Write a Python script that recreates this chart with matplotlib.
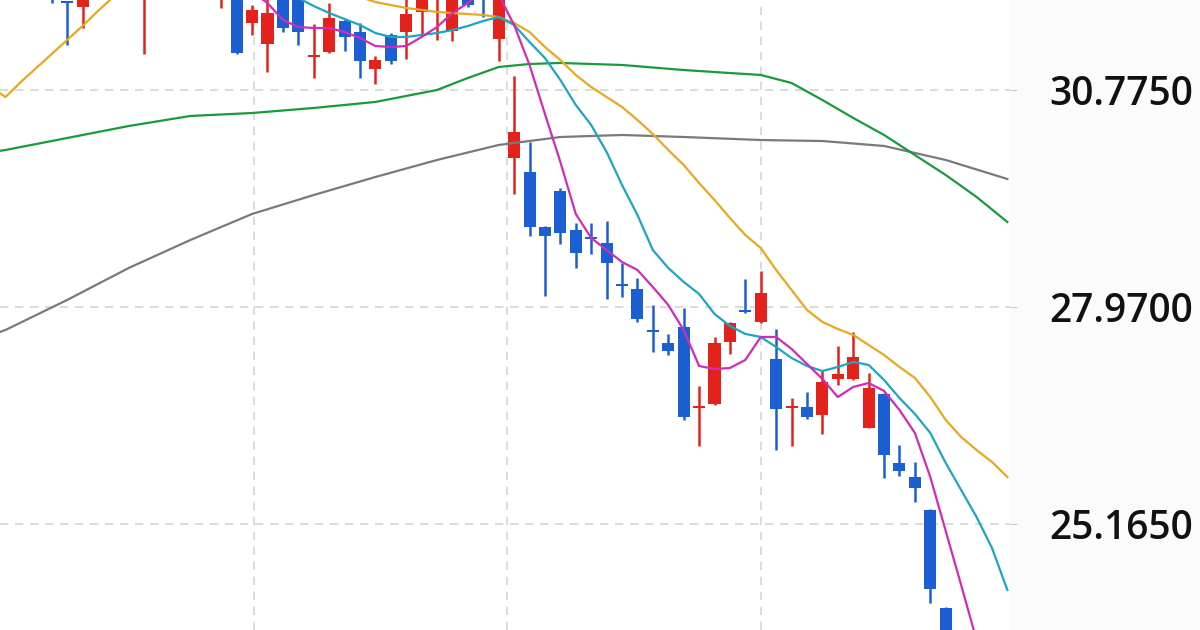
import matplotlib.pyplot as plt
import numpy as np

# candle data (price), index 0..58 from left to right
opens = [32.15, 31.916, 31.844, 32.05, 32.30, 32.55, 32.15, 32.50, 32.70, 32.55,
         32.75, 32.10, 32.50, 31.637, 31.365, 32.10, 32.05, 31.199, 31.262, 31.670,
         31.528, 31.046, 31.486, 31.520, 31.787, 32.00, 31.537, 32.10, 32.15, 31.434,
         29.892, 29.719, 29.004, 29.473, 28.965, 28.871, 28.793, 28.254, 28.202, 27.659,
         27.504, 27.711, 26.660, 26.716, 27.517, 27.931, 27.776, 27.297, 26.664, 26.677,
         26.574, 27.039, 27.039, 26.406, 26.845, 25.953, 25.772, 25.346, 24.079]
highs = [32.20, 31.919, 32.15, 32.40, 32.65, 32.75, 32.70, 32.85, 32.90, 32.95,
         32.85, 32.60, 32.60, 31.873, 31.95, 32.20, 32.15, 31.624, 31.903, 31.689,
         31.645, 31.214, 31.508, 31.99, 32.15, 32.35, 32.20, 32.20, 32.25, 32.10,
         30.956, 30.106, 29.017, 29.508, 29.055, 29.059, 29.085, 28.535, 28.348, 28.000,
         27.621, 27.957, 26.948, 27.582, 27.776, 28.332, 28.435, 27.685, 26.793, 26.871,
         27.142, 27.465, 27.647, 27.116, 26.852, 26.186, 25.966, 25.359, 24.092]
lows = [31.895, 31.356, 31.572, 31.98, 32.20, 32.30, 31.236, 32.35, 32.40, 32.45,
        32.30, 31.831, 31.236, 31.486, 31.003, 31.520, 31.356, 30.926, 31.255, 31.279,
        30.926, 30.852, 31.111, 31.175, 31.486, 31.421, 31.412, 31.851, 31.714, 31.153,
        29.430, 28.887, 28.116, 28.784, 28.478, 28.651, 28.073, 28.095, 27.780, 27.388,
        27.349, 26.509, 26.173, 26.709, 27.362, 27.898, 27.763, 26.121, 26.173, 26.522,
        26.328, 26.961, 27.026, 26.399, 25.759, 25.785, 25.449, 24.143, 23.30]
closes = [31.98, 31.899, 32.05, 32.30, 32.55, 32.40, 32.50, 32.70, 32.55, 32.75,
          32.60, 32.45, 31.249, 31.809, 31.774, 31.572, 31.520, 31.212, 31.701, 31.456,
          31.149, 31.166, 31.153, 31.757, 32.05, 32.25, 32.05, 31.873, 31.97, 32.00,
          30.236, 29.008, 28.887, 28.922, 28.664, 28.845, 28.542, 28.237, 27.811, 27.643,
          27.401, 26.548, 26.673, 27.504, 27.763, 27.901, 28.151, 26.651, 26.677, 26.548,
          27.000, 27.104, 27.323, 26.923, 26.056, 25.850, 25.630, 24.325, 23.50]

# moving average lines
ma5_x = list(range(13, 61))
ma5 = [32.041, 31.899, 31.679, 31.589, 31.576, 31.576, 31.524, 31.447, 31.343, 31.330,
       31.343, 31.460, 31.589, 31.770, 31.899, 32.067, 32.003, 31.615, 31.098, 30.464,
       29.844, 29.172, 28.862, 28.706, 28.551, 28.448, 28.228, 27.995, 27.672, 27.207,
       27.168, 27.181, 27.285, 27.582, 27.582, 27.427, 27.233, 27.039, 26.806, 26.936,
       26.987, 26.884, 26.638, 26.341, 25.772, 25.074, 24.376, 23.665]
ma10_x = list(range(15, 63))
ma10 = [32.067, 31.964, 31.860, 31.770, 31.692, 31.615, 31.511, 31.460, 31.460, 31.486,
        31.511, 31.550, 31.602, 31.667, 31.718, 31.615, 31.395, 31.188, 30.904, 30.581,
        30.322, 29.973, 29.547, 29.159, 28.706, 28.474, 28.293, 28.138, 27.879, 27.724,
        27.621, 27.582, 27.452, 27.310, 27.207, 27.142, 27.194, 27.259, 27.220, 27.026,
        26.793, 26.587, 26.341, 25.953, 25.604, 25.255, 24.855, 24.311]
ma20_x = [-4, -3, -2, -1, 0, 1, 2, 3, 4, 12] + list(range(20, 63))
ma20 = [30.82, 30.684, 30.878, 31.059, 31.240, 31.421, 31.602, 31.796, 31.977, 32.30,
        31.977, 31.912, 31.873, 31.835, 31.809, 31.783, 31.770, 31.757, 31.744, 31.718,
        31.641, 31.524, 31.330, 31.162, 30.969, 30.813, 30.684, 30.555, 30.387, 30.206,
        29.999, 29.805, 29.572, 29.353, 29.120, 28.900, 28.732, 28.448, 28.189, 27.931,
        27.776, 27.685, 27.608, 27.478, 27.349, 27.194, 27.052, 26.806, 26.509, 26.289,
        26.121, 25.966, 25.772]
ma60_x = [-4, -3, 1, 5, 9, 13, 17, 21, 25, 27, 29, 31, 33, 37, 41, 44, 46, 48, 50, 52,
          54, 56, 58, 60, 62]
ma60 = [29.97, 29.999, 30.154, 30.309, 30.439, 30.477, 30.542, 30.620, 30.775, 30.930,
        31.072, 31.111, 31.124, 31.098, 31.033, 30.994, 30.969, 30.865, 30.645, 30.413,
        30.193, 29.934, 29.676, 29.392, 29.068]
ma120_x = [-4, -3, 1, 5, 9, 13, 17, 21, 25, 29, 33, 37, 41, 46, 50, 54, 58, 62]
ma120 = [27.60, 27.672, 28.060, 28.474, 28.836, 29.172, 29.417, 29.650, 29.870, 30.064,
         30.167, 30.193, 30.167, 30.128, 30.115, 30.051, 29.870, 29.624]

price_ticks = [25.165, 27.970, 30.775]
month_lines = [13.12, 29.57, 46.02]

red = '#e3231b'
blue = '#1b5fd3'

o = np.array(opens)
c = np.array(closes)
idx = np.arange(len(o))
cols = np.where(c >= o, red, blue)

fig = plt.figure(figsize=(12, 6.3), dpi=100, facecolor='#fbfbfb')
ax = fig.add_axes([0, 0, 1010 / 1200, 1])
ax.set_facecolor('white')

# candles
ax.vlines(idx, lows, highs, colors=cols, linewidth=1.8, zorder=3)
body = np.maximum(np.abs(c - o), 0.025)
ax.bar(idx, body, bottom=np.minimum(o, c), width=0.78, color=cols, zorder=3)

# moving averages
ax.plot(ma120_x, ma120, color='#7a7a7a', lw=1.6, zorder=4)
ax.plot(ma60_x, ma60, color='#1a9a3c', lw=1.6, zorder=4)
ax.plot(ma20_x, ma20, color='#e8a91c', lw=1.6, zorder=4)
ax.plot(ma10_x, ma10, color='#1ba6c4', lw=1.6, zorder=4)
ax.plot(ma5_x, ma5, color='#d32bb8', lw=1.6, zorder=4)

ax.set_xlim(-3.354, 62.17)
ax.set_ylim(23.794, 31.938)

ax.set_xticks(month_lines)
ax.set_xticklabels([])
ax.tick_params(axis='x', length=0)
ax.set_yticks(price_ticks)
ax.set_yticklabels(['%.4f' % v for v in price_ticks])
ax.yaxis.tick_right()
ax.tick_params(axis='y', length=5, color='#cccccc', pad=23, labelsize=28,
               labelcolor='#111111')
for lab in ax.get_yticklabels():
    lab.set_fontfamily('Open Sans')
    lab.set_fontweight('semibold')

ax.grid(True, color='#d6d6d6', linestyle=(0, (5, 4)), linewidth=1.2, zorder=0)
for s in ax.spines.values():
    s.set_visible(False)

fig.savefig('out.png', dpi=100, facecolor=fig.get_facecolor())
